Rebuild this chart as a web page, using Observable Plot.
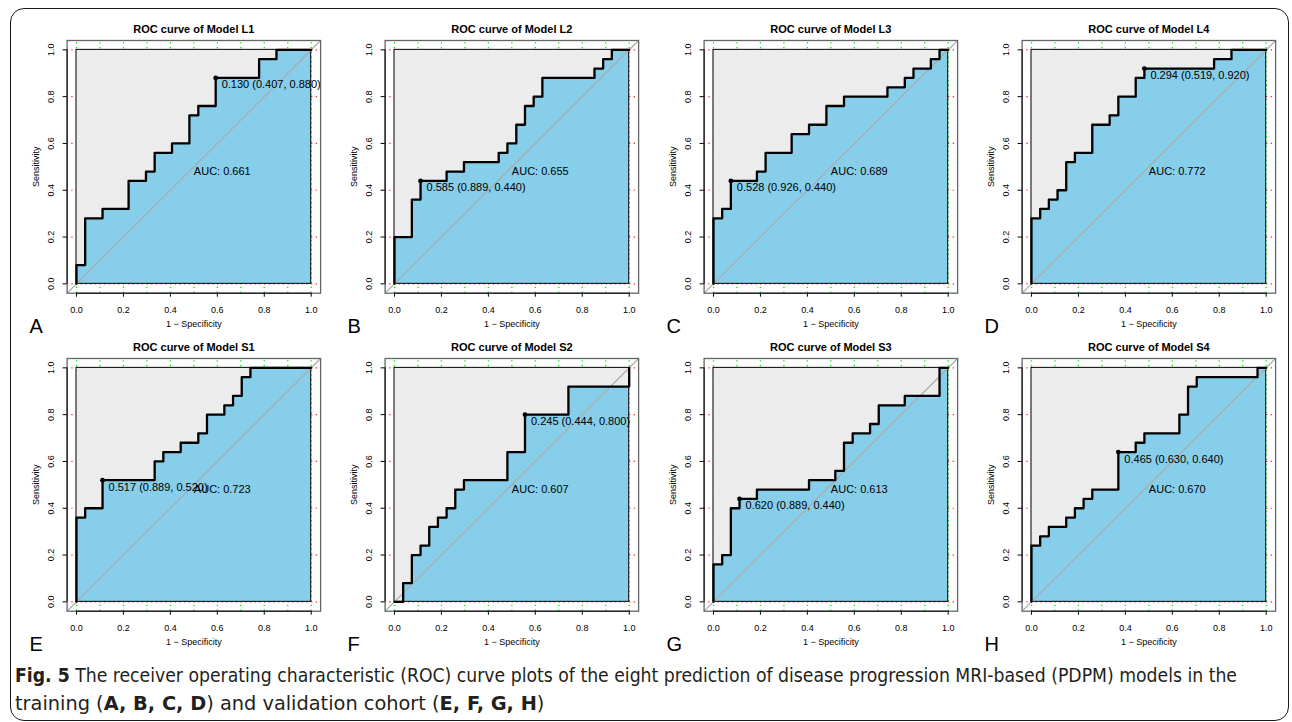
<!DOCTYPE html>
<html>
<head>
<meta charset="utf-8">
<script src="https://cdn.jsdelivr.net/npm/d3@7"></script>
<script src="https://cdn.jsdelivr.net/npm/@observablehq/plot@0.6"></script>
<style>
  body { margin: 0; background: #fff; }
  #fig { position: relative; width: 1292px; height: 722px; overflow: hidden; background: #fff; }
  #border { position: absolute; left: 10px; top: 8px; width: 1279px; height: 713px; border: 1.5px solid #1a1a1a; border-radius: 14px; box-sizing: border-box; }
  .panel { position: absolute; }
  .cap { position: absolute; left: 15px; white-space: nowrap; transform-origin: 0 0; font-family: "Liberation Sans Narrow", "DejaVu Sans Condensed", "Open Sans", sans-serif; font-size: 19px; line-height: 20px; color: #231f20; }
</style>
</head>
<body>
<div id="fig">
  <div id="border"></div>
  <div class="cap" id="cap1" style="top:665px"><b>Fig. 5</b> The receiver operating characteristic (ROC) curve plots of the eight prediction of disease progression MRI-based (PDPM) models in the</div>
  <div class="cap" id="cap2" style="top:693px">training (<b>A, B, C, D</b>) and validation cohort (<b>E, F, G, H</b>)</div>
</div>
<script>
// ---- data ----
const models = ["L1", "L2", "L3", "L4", "S1", "S2", "S3", "S4"];
const letters = ["A", "B", "C", "D", "E", "F", "G", "H"];
const aucs = ["0.661", "0.655", "0.689", "0.772", "0.723", "0.607", "0.613", "0.670"];
const thrLabels = ["0.130 (0.407, 0.880)", "0.585 (0.889, 0.440)", "0.528 (0.926, 0.440)", "0.294 (0.519, 0.920)",
                   "0.517 (0.889, 0.520)", "0.245 (0.444, 0.800)", "0.620 (0.889, 0.440)", "0.465 (0.630, 0.640)"];
const thrSpec = [0.407, 0.889, 0.926, 0.519, 0.889, 0.444, 0.889, 0.630];
const thrSens = [0.880, 0.440, 0.440, 0.920, 0.520, 0.800, 0.440, 0.640];

// ROC step vertices: 1 - specificity (x) and sensitivity (y)
const rocL1X = [0, 0, 0.037, 0.111, 0.222, 0.296, 0.333, 0.407, 0.481, 0.519, 0.593, 0.778, 0.852, 1];
const rocL1Y = [0, 0.08, 0.28, 0.32, 0.44, 0.48, 0.56, 0.60, 0.72, 0.76, 0.88, 0.96, 1, 1];
const rocL2X = [0, 0, 0.074, 0.111, 0.222, 0.296, 0.444, 0.481, 0.519, 0.556, 0.593, 0.630, 0.852, 0.889, 0.926, 1];
const rocL2Y = [0, 0.20, 0.36, 0.44, 0.48, 0.52, 0.56, 0.60, 0.68, 0.76, 0.80, 0.88, 0.92, 0.96, 1, 1];
const rocL3X = [0, 0, 0.037, 0.074, 0.185, 0.222, 0.333, 0.407, 0.481, 0.556, 0.741, 0.815, 0.852, 0.926, 0.963, 1];
const rocL3Y = [0, 0.28, 0.32, 0.44, 0.48, 0.56, 0.64, 0.68, 0.76, 0.80, 0.84, 0.88, 0.92, 0.96, 1, 1];
const rocL4X = [0, 0, 0.037, 0.074, 0.111, 0.148, 0.185, 0.259, 0.333, 0.370, 0.444, 0.481, 0.778, 0.852, 1];
const rocL4Y = [0, 0.28, 0.32, 0.36, 0.40, 0.52, 0.56, 0.68, 0.72, 0.80, 0.88, 0.92, 0.96, 1, 1];
const rocS1X = [0, 0, 0.037, 0.111, 0.333, 0.370, 0.444, 0.519, 0.556, 0.630, 0.667, 0.704, 0.741, 1];
const rocS1Y = [0, 0.36, 0.40, 0.52, 0.60, 0.64, 0.68, 0.72, 0.80, 0.84, 0.88, 0.96, 1, 1];
const rocS2X = [0, 0.037, 0.074, 0.111, 0.148, 0.185, 0.222, 0.259, 0.296, 0.481, 0.556, 0.741, 1];
const rocS2Y = [0, 0.08, 0.20, 0.24, 0.32, 0.36, 0.40, 0.48, 0.52, 0.64, 0.80, 0.92, 1];
const rocS3X = [0, 0, 0.037, 0.074, 0.111, 0.185, 0.407, 0.519, 0.556, 0.593, 0.667, 0.704, 0.815, 0.963, 1];
const rocS3Y = [0, 0.16, 0.20, 0.40, 0.44, 0.48, 0.52, 0.56, 0.68, 0.72, 0.76, 0.84, 0.88, 1, 1];
const rocS4X = [0, 0, 0.037, 0.074, 0.148, 0.185, 0.222, 0.259, 0.370, 0.444, 0.481, 0.630, 0.667, 0.704, 0.963, 1];
const rocS4Y = [0, 0.24, 0.28, 0.32, 0.36, 0.40, 0.44, 0.48, 0.64, 0.68, 0.72, 0.80, 0.92, 0.96, 1, 1];

const rocX = [rocL1X, rocL2X, rocL3X, rocL4X, rocS1X, rocS2X, rocS3X, rocS4X];
const rocY = [rocL1Y, rocL2Y, rocL3Y, rocL4Y, rocS1Y, rocS2Y, rocS3Y, rocS4Y];

const xTicks = [0, 0.2, 0.4, 0.6, 0.8, 1];
const yTicks = [0, 0.2, 0.4, 0.6, 0.8, 1];
const xGrid = [0, 0.1, 0.2, 0.3, 0.4, 0.5, 0.6, 0.7, 0.8, 0.9, 1];
const yGrid = [0, 0.2, 0.4, 0.6, 0.8, 1];
const lim = [-0.04, 1.04];

// ---- drawing ----
function panel(k) {
  const pts = rocX[k].map((x, i) => ({x, y: rocY[k][i]}));
  const px = 1 - thrSpec[k], py = thrSens[k];
  return Plot.plot({
    width: 318, height: 340,
    marginLeft: 56.6, marginRight: 7.9, marginTop: 40, marginBottom: 47.3,
    x: {domain: lim},
    y: {domain: lim},
    style: {background: "transparent", overflow: "visible", fontFamily: "'Liberation Sans', Arial, sans-serif", fontSize: "9px", color: "black"},
    marks: [
      Plot.ruleX(xGrid, {x: d => d, y1: lim[0], y2: lim[1], stroke: "#00ee00", strokeWidth: 1.3, strokeDasharray: "1.3,3.4"}),
      Plot.ruleY(yGrid, {y: d => d, x1: lim[0], x2: lim[1], stroke: "#ff2a2a", strokeWidth: 1.2, strokeDasharray: "1.3,3.4"}),
      Plot.rect([0], {x1: 0, x2: 1, y1: 0, y2: 1, fill: "#ECECEC"}),
      Plot.areaY(pts, {x: "x", y: "y", curve: "step-after", fill: "#87CEEB"}),
      Plot.rect([0], {x1: 0, x2: 1, y1: 0, y2: 1, fill: "none", stroke: "black", strokeWidth: 1}),
      Plot.link([0], {x1: lim[0], y1: lim[0], x2: lim[1], y2: lim[1], stroke: "#aaaaaa", strokeWidth: 1.2}),
      Plot.line(pts, {x: "x", y: "y", curve: "step-after", stroke: "black", strokeWidth: 2.3}),
      Plot.dot([0], {x: px, y: py, r: 2.4, fill: "black"}),
      Plot.text([thrLabels[k]], {x: px, y: py, text: d => d, dx: 6, dy: 7, textAnchor: "start", fontSize: 11}),
      Plot.text([`AUC: ${aucs[k]}`], {x: 0.5, y: 0.5, text: d => d, textAnchor: "start", lineAnchor: "top", fontSize: 11}),
      Plot.frame({stroke: "#666", strokeWidth: 1.3}),
      Plot.ruleY([lim[0]], {y: d => d, x1: 0, x2: 1, stroke: "black"}),
      Plot.ruleX([lim[0]], {x: d => d, y1: 0, y2: 1, stroke: "black"}),
      Plot.axisX({ticks: xTicks, tickSize: 4, tickPadding: 9, tickFormat: d => d.toFixed(1), label: null}),
      Plot.axisY({ticks: yTicks, tickSize: 4, tickFormat: () => "", label: null}),
      Plot.text(yTicks, {x: lim[0], y: d => d, text: d => d.toFixed(1), rotate: -90, dx: -15.6, fontSize: 9}),
      Plot.text(["Sensitivity"], {x: lim[0], y: 0.5, text: d => d, rotate: -90, dx: -30.6, fontSize: 9}),
      Plot.text(["1 \u2212 Specificity"], {x: 0.5, y: lim[0], text: d => d, dy: 31.3, fontSize: 9}),
      Plot.text([`ROC curve of Model ${models[k]}`], {x: 0.5, y: lim[1], text: d => d, dy: -11, fontWeight: "bold", fontSize: 11}),
      Plot.text([letters[k]], {x: lim[0], y: lim[0], text: d => d, dx: -37.6, dy: 39.3, textAnchor: "start", lineAnchor: "bottom", fontSize: 20})
    ]
  });
}

const fig = document.getElementById("fig");
for (let k = 0; k < 8; k++) {
  const c = k % 4, r = Math.floor(k / 4);
  const wrap = document.createElement("div");
  wrap.className = "panel";
  wrap.style.left = (10 + 318.3 * c) + "px";
  wrap.style.top = (318.3 * r) + "px";
  wrap.appendChild(panel(k));
  fig.appendChild(wrap);
}

// fit caption lines to the reference widths
const cap1 = document.getElementById("cap1");
const cap2 = document.getElementById("cap2");
const s1 = 1222 / cap1.getBoundingClientRect().width;
const s2 = 547 / cap2.getBoundingClientRect().width;
cap1.style.transform = `scaleX(${s1})`;
cap2.style.transform = `scaleX(${Math.min(s2, s1 * 1.12)})`;
</script>
</body>
</html>
